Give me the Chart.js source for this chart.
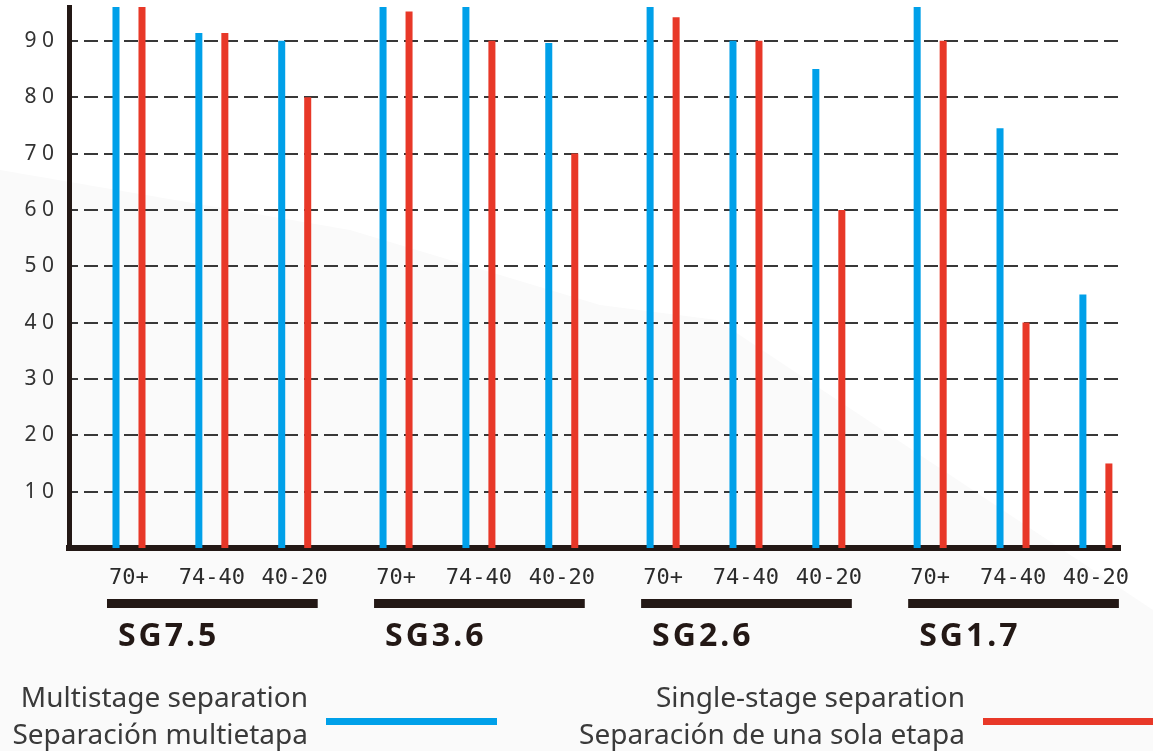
<!DOCTYPE html>
<html>
<head>
<meta charset="utf-8">
<script src="https://cdn.jsdelivr.net/npm/chart.js@4.4.1/dist/chart.umd.min.js"></script>
<style>
html, body { margin: 0; padding: 0; background: #fff; }
#wrap { width: 1153px; height: 751px; }
</style>
</head>
<body>
<div id="wrap"><canvas id="myChart"></canvas></div>
<script>
var groups = ["SG7.5", "SG3.6", "SG2.6", "SG1.7"];
var ranges = ["70+", "74-40", "40-20"];
var multistage = [96, 91.4, 90, 96, 96, 89.6, 96, 90, 85, 96, 74.5, 45];
var singleStage = [96, 91.4, 80, 95.2, 90, 70, 94.2, 90, 60, 90, 40, 15];
var yTicks = [10, 20, 30, 40, 50, 60, 70, 80, 90];
var namesEn = ["Multistage separation", "Single-stage separation"];
var namesEs = ["Separación multietapa", "Separación de una sola etapa"];

var blue = "#00a0e9";
var red = "#e83828";
var ink = "#231815";

// extra space between groups, in category units
var GROUP_GAP = 0.223;
function xPos(k) {
    var g = Math.floor(k / ranges.length);
    return g * (ranges.length + GROUP_GAP) + (k % ranges.length);
}
var positions = multistage.map(function (v, k) { return xPos(k); });

function points(values) {
    return values.map(function (v, k) { return { x: positions[k], y: v }; });
}

// faint grey shape behind the chart
var backdrop = {
    id: "backdrop",
    beforeDraw: function (chart) {
        var c = chart.ctx;
        c.save();
        c.fillStyle = "#ffffff";
        c.fillRect(0, 0, chart.width, chart.height);
        c.fillStyle = "#fafafa";
        c.beginPath();
        c.moveTo(0, 170);
        c.lineTo(350, 230);
        c.lineTo(600, 305);
        c.lineTo(717, 320);
        c.lineTo(1153, 610);
        c.lineTo(1153, 751);
        c.lineTo(0, 751);
        c.closePath();
        c.fill();
        c.restore();
    }
};

var extras = {
    id: "extras",
    afterDraw: function (chart) {
        var c = chart.ctx;
        var xs = chart.scales.x;
        c.save();
        // group bars and names
        groups.forEach(function (name, g) {
            var first = xs.getPixelForValue(positions[g * ranges.length]);
            var last = xs.getPixelForValue(positions[g * ranges.length + ranges.length - 1]);
            c.fillStyle = ink;
            c.fillRect(first - 22, 599, last - first + 45, 9);
            c.font = "bold 32px 'Noto Sans'";
            c.letterSpacing = "3px";
            c.textAlign = "left";
            c.textBaseline = "alphabetic";
            c.fillText(name, first - 11, 646);
        });
        c.letterSpacing = "0px";
        // legend
        var rights = [308, 965];
        var colors = [blue, red];
        c.font = "28px 'Noto Sans'";
        c.textAlign = "right";
        for (var i = 0; i < 2; i++) {
            c.fillStyle = "#3a3a3a";
            c.fillText(namesEn[i], rights[i], 707);
            c.fillText(namesEs[i], rights[i], 744);
            c.fillStyle = colors[i];
            c.fillRect(rights[i] + 18, 718, 171, 7);
        }
        c.restore();
    }
};

var ctx = document.getElementById("myChart");

var myChart = new Chart(ctx, {
    type: "bar",
    data: {
        datasets: [
            {
                label: namesEn[0],
                data: points(multistage),
                backgroundColor: blue,
                borderWidth: 0
            },
            {
                label: namesEn[1],
                data: points(singleStage),
                backgroundColor: red,
                borderWidth: 0
            }
        ]
    },
    options: {
        responsive: true,
        maintainAspectRatio: false,
        animation: false,
        layout: { padding: { left: 0, top: 7, right: 33, bottom: 0 } },
        datasets: { bar: { categoryPercentage: 0.6276, barPercentage: 0.27 } },
        plugins: {
            legend: { display: false },
            tooltip: { enabled: false }
        },
        scales: {
            x: {
                type: "linear",
                offset: false,
                min: -0.724,
                max: 11.96,
                afterBuildTicks: function (s) {
                    s.ticks = positions.map(function (p) { return { value: p }; });
                },
                afterFit: function (s) {
                    s.height = 203;
                    s.paddingLeft = 0;
                    s.paddingRight = 0;
                },
                grid: { drawOnChartArea: false, drawTicks: false, color: "rgba(0,0,0,0)" },
                border: { display: true, color: ink, width: 6 },
                ticks: {
                    autoSkip: false,
                    maxRotation: 0,
                    padding: 17,
                    color: "#2b2b2b",
                    font: { family: "'DejaVu Sans Mono'", size: 22 },
                    callback: function (v, i) { return ranges[i % ranges.length]; }
                }
            },
            y: {
                min: 0,
                max: 96,
                afterBuildTicks: function (s) {
                    s.ticks = yTicks.map(function (t) { return { value: t }; });
                },
                afterFit: function (s) {
                    s.width = 69;
                    s.paddingTop = 0;
                    s.paddingBottom = 0;
                },
                grid: { color: "#383838", lineWidth: 2, drawTicks: false },
                border: { display: true, color: ink, width: 5, dash: [14, 6], dashOffset: 8 },
                ticks: {
                    padding: 15,
                    color: "#333333",
                    font: { family: "'Noto Sans'", size: 21 },
                    callback: function (v) { return String(v).split("").join(" "); }
                }
            }
        }
    },
    plugins: [backdrop, extras]
});
</script>
</body>
</html>
